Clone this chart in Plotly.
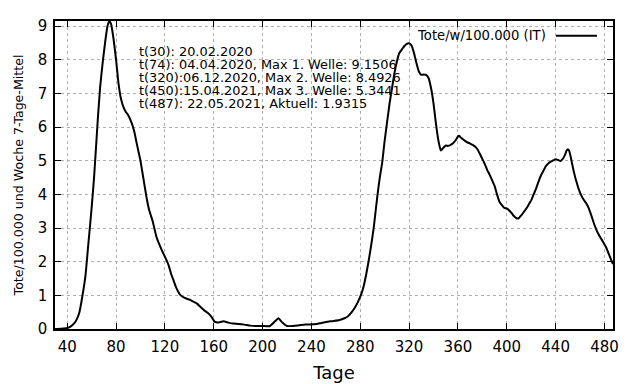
import plotly.graph_objects as go

days = [30,35,40,43,46,48,50,53,55,57,60,62,65,67,69,71,73,74.5,76,78,80,82,84,86,88,90,93,95,97,100,102.5,105,107,110,113,115,118,120,123,125,127,129,131,133,135,138,141,144,146,149,152,155,158,161,165,168,172,176,180,185,190,195,200,206,210,213,216,220,225,230,235,242,247,252,258,263,267,270,273,276,278,281,283,285,287,289,291,294,296,298,300,302,304,306,308,310,312,314,316,318,320,322,324,326,328,330,332,334,336,338,340,342,344,346,348,350,352,354,356,358,360,361,362,364,366,368,370,372,374,376,378,380,382,384,386,388,390,392,394,396,398,400,402,404,406,408,409,410,412,414,416,418,420,422,424,426,428,430,432,434,436,438,440,442,444,446,447,448,449,450,451,452,453,455,457,459,461,463,465,467,469,471,473,475,477,479,481,483,485,487]
deaths = [0,0.01,0.03,0.08,0.18,0.3,0.5,1.1,1.6,2.4,3.6,4.5,6.2,7.2,7.9,8.5,9.0,9.15,9.05,8.6,8.0,7.3,6.85,6.6,6.45,6.35,6.1,5.85,5.5,5.0,4.45,3.9,3.55,3.2,2.75,2.55,2.3,2.15,1.9,1.65,1.45,1.25,1.1,1.0,0.95,0.9,0.86,0.8,0.76,0.66,0.56,0.48,0.37,0.21,0.2,0.23,0.19,0.16,0.15,0.13,0.1,0.09,0.09,0.09,0.22,0.32,0.2,0.09,0.09,0.11,0.13,0.14,0.17,0.21,0.24,0.27,0.32,0.38,0.5,0.66,0.8,1.05,1.3,1.65,2.05,2.5,3.0,3.95,4.5,4.95,5.6,6.15,6.7,7.15,7.6,7.95,8.2,8.3,8.4,8.47,8.49,8.42,8.2,7.9,7.65,7.55,7.56,7.55,7.45,7.15,6.7,6.1,5.6,5.3,5.38,5.45,5.44,5.47,5.52,5.6,5.72,5.74,5.7,5.64,5.58,5.54,5.51,5.47,5.42,5.34,5.2,5.05,4.9,4.72,4.58,4.42,4.25,4.0,3.78,3.68,3.6,3.58,3.52,3.44,3.35,3.29,3.28,3.3,3.38,3.48,3.58,3.7,3.82,4.0,4.17,4.38,4.56,4.7,4.84,4.92,4.97,5.01,5.04,5.02,4.99,5.06,5.12,5.2,5.3,5.34,5.3,5.18,5.0,4.66,4.38,4.15,3.97,3.84,3.74,3.6,3.4,3.18,2.98,2.82,2.7,2.58,2.45,2.28,2.1,1.93]

x_ticks = [40, 80, 120, 160, 200, 240, 280, 320, 360, 400, 440, 480]
y_ticks = [0, 1, 2, 3, 4, 5, 6, 7, 8, 9]
info_lines = [
    "t(30): 20.02.2020",
    "t(74): 04.04.2020, Max 1. Welle: 9.1506",
    "t(320):06.12.2020, Max 2. Welle: 8.4926",
    "t(450):15.04.2021, Max 3. Welle: 5.3441",
    "t(487): 22.05.2021, Aktuell: 1.9315",
]
series_name = "Tote/w/100.000 (IT)"

font = "DejaVu Sans"
# page has an 8px body margin; plot area wanted at page px 55..613 x 17..329
OFF = 8
L, R, T, B = 55 - OFF, 613 - OFF, 17 - OFF, 329 - OFF
PW, PH = R - L, B - T

def px(xp):
    return (xp - OFF - L) / PW

def py(yp):
    return 1 - (yp - OFF - T) / PH

fig = go.Figure()
fig.add_trace(go.Scatter(x=days, y=deaths, mode="lines", name=series_name,
                         line=dict(color="black", width=2, shape="spline", smoothing=0.5),
                         showlegend=False))

fig.update_layout(
    width=640, height=384,
    margin=dict(l=L, r=640 - R, t=T, b=384 - B),
    plot_bgcolor="white", paper_bgcolor="white",
    font=dict(family=font, color="black"),
    xaxis=dict(range=[30, 487], tickvals=x_ticks, ticks="inside", ticklen=6,
               tickcolor="black", showline=True, linecolor="black", linewidth=1.5,
               mirror="ticks", showgrid=True, gridcolor="#b0b0b0", griddash="dot",
               gridwidth=1, zeroline=False, tickfont=dict(size=15), ticklabelstandoff=3,
               title=dict(text="Tage", font=dict(size=18), standoff=12)),
    yaxis=dict(range=[0, 9.15], tickvals=y_ticks, ticks="inside", ticklen=6,
               tickcolor="black", showline=True, linecolor="black", linewidth=1.5,
               mirror="ticks", showgrid=True, gridcolor="#b0b0b0", griddash="dot",
               gridwidth=1, zeroline=False, tickfont=dict(size=15), ticklabelstandoff=3,
               title=dict(text="Tote/100.000 und Woche 7-Tage-Mittel", font=dict(size=12.6), standoff=11)),
)

for i, line in enumerate(info_lines):
    fig.add_annotation(x=px(138), y=py(47.5 + i * 13.3), xref="paper", yref="paper",
                       xanchor="left", yanchor="middle", align="left", showarrow=False,
                       borderpad=0, text=line, font=dict(size=12.9, family=font))

# legend (gnuplot style: text then sample line)
fig.add_annotation(x=px(548), y=py(32), xref="paper", yref="paper",
                   xanchor="right", yanchor="middle", showarrow=False,
                   text=series_name, font=dict(size=13.2, family=font))
fig.add_shape(type="line", xref="paper", yref="paper",
              x0=px(556), x1=px(597), y0=py(32), y1=py(32),
              line=dict(color="black", width=2))

fig.write_html("out.html")
